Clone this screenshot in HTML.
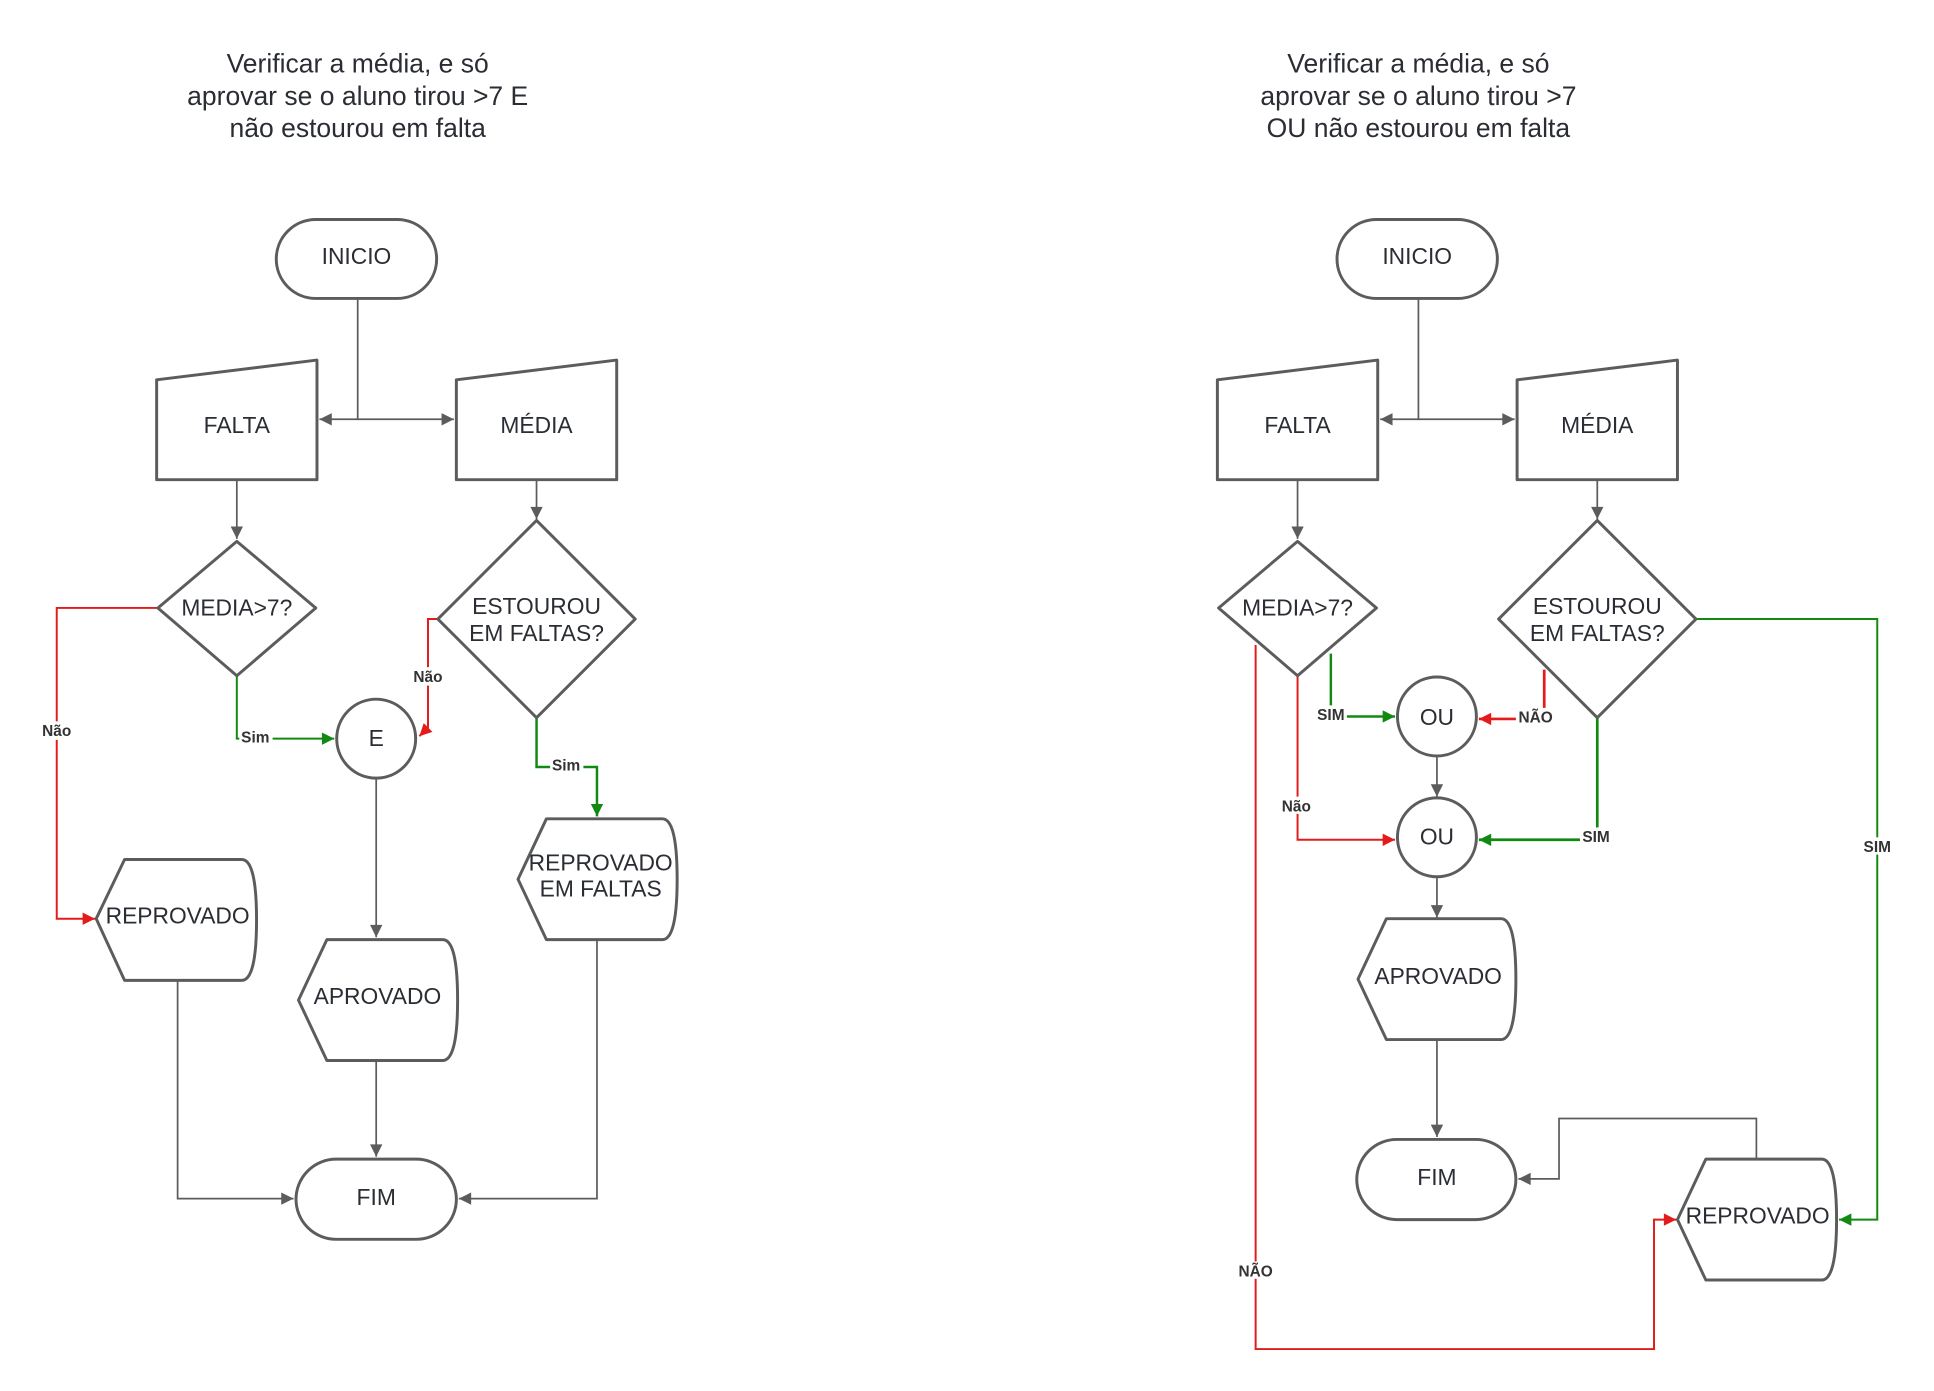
<!DOCTYPE html>
<html><head><meta charset="utf-8"><style>
html,body{margin:0;padding:0;background:#fff;}
svg{display:block;}
text{font-family:"Liberation Sans",Arial,sans-serif;fill:#2a2d33;}
.t{font-size:18.5px;text-anchor:middle;}
.h{font-size:21.5px;text-anchor:middle;}
.l{font-size:12.5px;font-weight:bold;text-anchor:middle;fill:#333;}
.s{fill:#fff;stroke:#5c5c5c;stroke-width:2.4;stroke-linejoin:round;}
.c{fill:none;stroke:#5c5c5c;stroke-width:1.4;}
.r{fill:none;stroke:#e31b1b;stroke-width:1.6;}
.g{fill:none;stroke:#128a12;stroke-width:1.6;}
.lb{fill:#fff;}
</style></head><body>
<svg width="1934" height="1391" viewBox="0 0 1568 1128" preserveAspectRatio="none" xmlns="http://www.w3.org/2000/svg">
<defs>
<marker id="ag" viewBox="0 0 10 10" refX="10" refY="5" markerWidth="13" markerHeight="10" markerUnits="userSpaceOnUse" orient="auto"><path d="M0,0 L10,5 L0,10 Z" fill="#5c5c5c"/></marker>
<marker id="ar" viewBox="0 0 10 10" refX="10" refY="5" markerWidth="13" markerHeight="10" markerUnits="userSpaceOnUse" orient="auto"><path d="M0,0 L10,5 L0,10 Z" fill="#e31b1b"/></marker>
<marker id="agr" viewBox="0 0 10 10" refX="10" refY="5" markerWidth="13" markerHeight="10" markerUnits="userSpaceOnUse" orient="auto"><path d="M0,0 L10,5 L0,10 Z" fill="#128a12"/></marker>
</defs>

<!-- ============ LEFT ============ -->
<text class="h" x="290" y="59">Verificar a média, e só</text>
<text class="h" x="290" y="85">aprovar se o aluno tirou &gt;7 E</text>
<text class="h" x="290" y="111">não estourou em falta</text>

<path class="c" d="M290,243 V340 H259" marker-end="url(#ag)"/>
<path class="c" d="M290,340 H368" marker-end="url(#ag)"/>
<path class="c" d="M192,389 V437" marker-end="url(#ag)"/>
<path class="c" d="M435,389 V421" marker-end="url(#ag)"/>
<path class="g" d="M192,548 V599 H271" marker-end="url(#agr)"/>
<path class="r" d="M128,493 H46 V745 H77" marker-end="url(#ar)"/>
<path class="r" d="M355,502 H347 V590 L340,597" marker-end="url(#ar)"/>
<path class="g" d="M435,582 V622 H484 V662" marker-end="url(#agr)" style="stroke-width:2"/>
<path class="c" d="M305,632 V760" marker-end="url(#ag)"/>
<path class="c" d="M305,860 V938" marker-end="url(#ag)"/>
<path class="c" d="M144,795 V972 H238" marker-end="url(#ag)"/>
<path class="c" d="M484,762 V972 H372" marker-end="url(#ag)"/>

<rect class="s" x="224" y="178" width="130" height="64" rx="32"/>
<text class="t" x="289" y="214">INICIO</text>
<path class="s" d="M127,308 L257,292 L257,389 L127,389 Z"/>
<text class="t" x="192" y="351">FALTA</text>
<path class="s" d="M370,308 L500,292 L500,389 L370,389 Z"/>
<text class="t" x="435" y="351">MÉDIA</text>
<path class="s" d="M192,439 L256,493 L192,548 L128,493 Z"/>
<text class="t" x="192" y="499">MEDIA&gt;7?</text>
<path class="s" d="M435,422 L515,502 L435,582 L355,502 Z"/>
<text class="t" x="435" y="498">ESTOUROU</text>
<text class="t" x="435" y="520">EM FALTAS?</text>
<circle class="s" cx="305" cy="599" r="32"/>
<text class="t" x="305" y="605">E</text>
<path class="s" d="M78,745 L101,697 L196,697 Q208,697 208,746 Q208,795 196,795 L101,795 Z"/>
<text class="t" x="144" y="749">REPROVADO</text>
<path class="s" d="M242,811 L265,762 L359,762 Q371,762 371,811 Q371,860 359,860 L265,860 Z"/>
<text class="t" x="306" y="814">APROVADO</text>
<path class="s" d="M420,713 L443,664 L537,664 Q549,664 549,713 Q549,762 537,762 L443,762 Z"/>
<text class="t" x="487" y="706">REPROVADO</text>
<text class="t" x="487" y="727">EM FALTAS</text>
<rect class="s" x="240" y="940" width="130" height="65" rx="32.5"/>
<text class="t" x="305" y="977">FIM</text>

<rect class="lb" x="32" y="585" width="28" height="15"/><text class="l" x="46" y="597">Não</text>
<rect class="lb" x="194" y="591" width="27" height="15"/><text class="l" x="207" y="602">Sim</text>
<rect class="lb" x="333" y="541" width="28" height="15"/><text class="l" x="347" y="553">Não</text>
<rect class="lb" x="446" y="614" width="27" height="15"/><text class="l" x="459" y="625">Sim</text>

<!-- ============ RIGHT ============ -->
<text class="h" x="1150" y="59">Verificar a média, e só</text>
<text class="h" x="1150" y="85">aprovar se o aluno tirou &gt;7</text>
<text class="h" x="1150" y="111">OU não estourou em falta</text>

<path class="c" d="M1150,243 V340 H1119" marker-end="url(#ag)"/>
<path class="c" d="M1150,340 H1228" marker-end="url(#ag)"/>
<path class="c" d="M1052,389 V437" marker-end="url(#ag)"/>
<path class="c" d="M1295,389 V421" marker-end="url(#ag)"/>
<path class="g" d="M1079,530 V581 H1131" marker-end="url(#agr)" style="stroke-width:2"/>
<path class="r" d="M1052,548 V681 H1131" marker-end="url(#ar)"/>
<path class="r" d="M1018,523 V1094 H1341 V989 H1359" marker-end="url(#ar)"/>
<path class="r" d="M1252,543 V583 H1199" marker-end="url(#ar)" style="stroke-width:2.2"/>
<path class="g" d="M1295,582 V681 H1199" marker-end="url(#agr)" style="stroke-width:2.2"/>
<path class="g" d="M1375,502 H1522 V989 H1491" marker-end="url(#agr)"/>
<path class="c" d="M1165,613 V646" marker-end="url(#ag)"/>
<path class="c" d="M1165,710 V744" marker-end="url(#ag)"/>
<path class="c" d="M1165,843 V922" marker-end="url(#ag)"/>
<path class="c" d="M1424,940 V907 H1264 V956 H1231" marker-end="url(#ag)"/>

<rect class="s" x="1084" y="178" width="130" height="64" rx="32"/>
<text class="t" x="1149" y="214">INICIO</text>
<path class="s" d="M987,308 L1117,292 L1117,389 L987,389 Z"/>
<text class="t" x="1052" y="351">FALTA</text>
<path class="s" d="M1230,308 L1360,292 L1360,389 L1230,389 Z"/>
<text class="t" x="1295" y="351">MÉDIA</text>
<path class="s" d="M1052,439 L1116,493 L1052,548 L988,493 Z"/>
<text class="t" x="1052" y="499">MEDIA&gt;7?</text>
<path class="s" d="M1295,422 L1375,502 L1295,582 L1215,502 Z"/>
<text class="t" x="1295" y="498">ESTOUROU</text>
<text class="t" x="1295" y="520">EM FALTAS?</text>
<circle class="s" cx="1165" cy="581" r="32"/>
<text class="t" x="1165" y="588">OU</text>
<circle class="s" cx="1165" cy="679" r="32"/>
<text class="t" x="1165" y="685">OU</text>
<path class="s" d="M1101,794 L1124,745 L1217,745 Q1229,745 1229,794 Q1229,843 1217,843 L1124,843 Z"/>
<text class="t" x="1166" y="798">APROVADO</text>
<rect class="s" x="1100" y="924" width="129" height="65" rx="32.5"/>
<text class="t" x="1165" y="961">FIM</text>
<path class="s" d="M1360,989 L1383,940 L1477,940 Q1489,940 1489,989 Q1489,1038 1477,1038 L1383,1038 Z"/>
<text class="t" x="1425" y="992">REPROVADO</text>

<rect class="lb" x="1066" y="572" width="26" height="14"/><text class="l" x="1079" y="584">SIM</text>
<rect class="lb" x="1037" y="646" width="28" height="14"/><text class="l" x="1051" y="658">Não</text>
<rect class="lb" x="1229" y="574" width="33" height="14"/><text class="l" x="1245" y="586">NÃO</text>
<rect class="lb" x="1281" y="671" width="26" height="14"/><text class="l" x="1294" y="683">SIM</text>
<rect class="lb" x="1509" y="679" width="26" height="14"/><text class="l" x="1522" y="691">SIM</text>
<rect class="lb" x="1002" y="1023" width="33" height="14"/><text class="l" x="1018" y="1035">NÃO</text>
</svg>
</body></html>
